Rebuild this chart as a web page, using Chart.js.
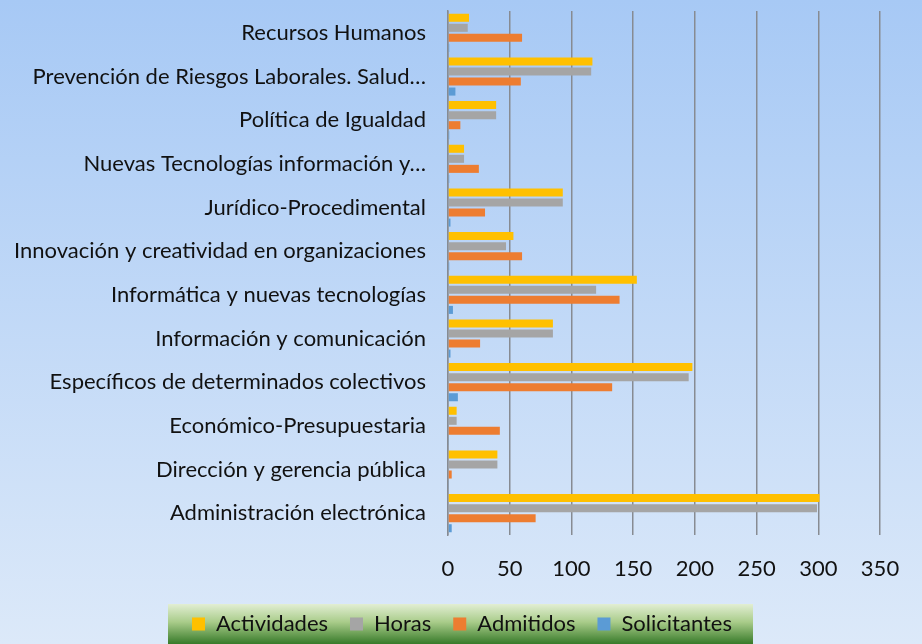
<!DOCTYPE html>
<html>
<head>
<meta charset="utf-8">
<script src="https://cdn.jsdelivr.net/npm/chart.js@4/dist/chart.umd.min.js"></script>
<style>
  html, body { margin: 0; padding: 0; }
  #wrap { width: 922px; height: 644px; position: relative; }
</style>
</head>
<body>
<div id="wrap"><canvas id="chart"></canvas></div>
<script>
// categorías, de arriba a abajo
const categorias = [
    'Recursos Humanos',
    'Prevención de Riesgos Laborales. Salud…',
    'Política de Igualdad',
    'Nuevas Tecnologías información y…',
    'Jurídico-Procedimental',
    'Innovación y creatividad en organizaciones',
    'Informática y nuevas tecnologías',
    'Información y comunicación',
    'Específicos de determinados colectivos',
    'Económico-Presupuestaria',
    'Dirección y gerencia pública',
    'Administración electrónica',
];

const actividades = [17, 117, 39, 13, 93, 53, 153, 85, 198, 7, 40, 301];
const horas = [16, 116, 39, 13, 93, 47, 120, 85, 195, 7, 40, 299];
const admitidos = [60, 59, 10, 25, 30, 60, 139, 26, 133, 42, 3, 71];
const solicitantes = [1, 6, 1, 1, 2, 1, 4, 2, 8, 0.5, 0.5, 3];

const xTicks = [0, 50, 100, 150, 200, 250, 300, 350];

const FONT = 'Lato, "Open Sans", sans-serif';

// fondo degradado + caja verde de la leyenda
const fondo = {
    id: 'fondo',
    afterLayout(chart) {
        // colocar la leyenda dentro de la caja verde
        if (chart.legend) {
            chart.legend.top -= 13;
            chart.legend.bottom -= 13;
            chart.legend.left += 22;
            chart.legend.right += 22;
        }
    },
    beforeDraw(chart) {
        const { ctx, width, height } = chart;
        ctx.save();
        const g = ctx.createLinearGradient(0, 0, 0, height);
        g.addColorStop(0, '#a7c9f5');
        g.addColorStop(1, '#dce9f9');
        ctx.fillStyle = g;
        ctx.fillRect(0, 0, width, height);

        const top = 604, bottom = 644;
        const lg = ctx.createLinearGradient(0, top, 0, bottom);
        lg.addColorStop(0, '#e2eed3');
        lg.addColorStop(0.45, '#a9cc8a');
        lg.addColorStop(1, '#377a29');
        ctx.fillStyle = lg;
        ctx.fillRect(168, top, 585, bottom - top);
        ctx.restore();
    },
};

new Chart(document.getElementById('chart'), {
    type: 'bar',
    data: {
        labels: categorias,
        datasets: [
            { label: 'Actividades', data: actividades, backgroundColor: '#ffc000' },
            { label: 'Horas', data: horas, backgroundColor: '#a5a5a5' },
            { label: 'Admitidos', data: admitidos, backgroundColor: '#ed7d31' },
            { label: 'Solicitantes', data: solicitantes, backgroundColor: '#5b9bd5' },
        ],
    },
    options: {
        indexAxis: 'y',
        responsive: true,
        maintainAspectRatio: false,
        animation: false,
        datasets: { bar: { categoryPercentage: 0.92, barPercentage: 0.8 } },
        layout: { padding: { top: 11, right: 42, left: 0, bottom: 0 } },
        plugins: {
            legend: {
                position: 'bottom',
                maxHeight: 40,
                labels: {
                    color: '#111',
                    font: { family: FONT, size: 22 },
                    boxWidth: 13,
                    boxHeight: 13,
                    padding: 22,
                },
            },
            tooltip: { enabled: false },
        },
        scales: {
            x: {
                min: 0,
                max: 350,
                afterBuildTicks: (s) => { s.ticks = xTicks.map((v) => ({ value: v })); },
                grid: { color: '#878b92', lineWidth: 1.5, drawTicks: false },
                border: { display: false },
                ticks: { color: '#111', font: { family: FONT, size: 22 }, padding: 21 },
                afterFit: (s) => { s.height = 69; },
            },
            y: {
                grid: { display: false, drawTicks: false },
                border: { color: '#878b92', width: 1.5 },
                ticks: { color: '#111', font: { family: FONT, size: 22 }, padding: 22, autoSkip: false },
                afterFit: (s) => { s.width = 448; s.paddingTop = 0; s.paddingBottom = 0; },
            },
        },
    },
    plugins: [fondo],
});
</script>
</body>
</html>
